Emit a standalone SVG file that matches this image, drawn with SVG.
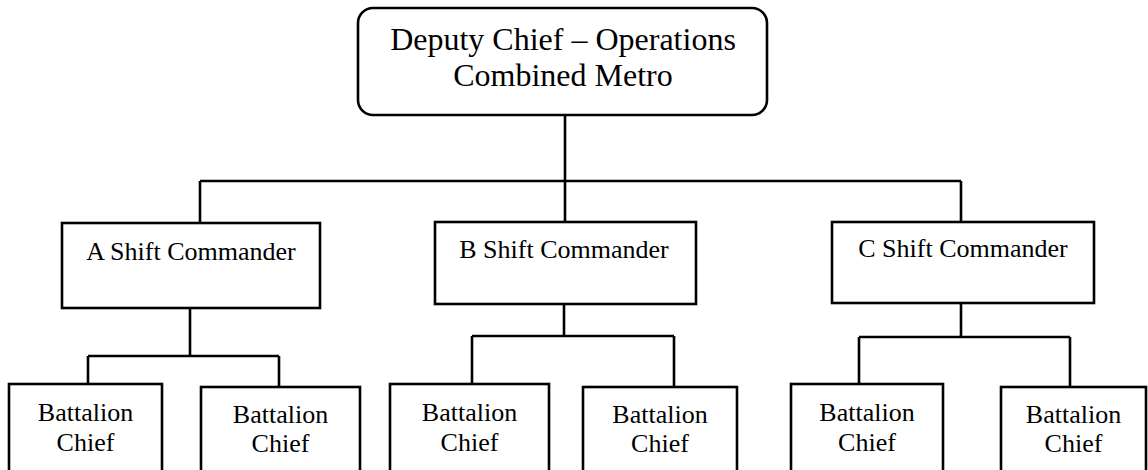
<svg xmlns="http://www.w3.org/2000/svg" width="1148" height="470" viewBox="0 0 1148 470">
<style>
.box{fill:#fff;stroke:#000;stroke-width:2.6}
.ln{fill:none;stroke:#000;stroke-width:2.6}
.t{font-family:'Liberation Serif','Times New Roman','DejaVu Serif',serif;fill:#000;text-anchor:middle}
.t1{font-size:32px}
.t2{font-size:26px}
.t3{font-size:26px}
</style>
<rect width="1148" height="470" fill="#fff"/>
<g id="connectors">
<path class="ln" d="M565 115V181M200 181H961M200 181V223M565 181V222M961 181V222"/>
<path class="ln" d="M190 308V356M88 356H279M88 356V384M279 356V387"/>
<path class="ln" d="M564 304V336M472 336H674M472 336V384M674 336V387"/>
<path class="ln" d="M961 303V337M859 337H1070M859 337V384M1070 337V387"/>
</g>
<g id="deputy">
<rect class="box" x="358" y="8" width="409" height="107" rx="15"/>
<text class="t t1" x="563" y="50" font-family="Liberation Serif, serif">Deputy Chief – Operations</text>
<text class="t t1" x="563" y="86" font-family="Liberation Serif, serif">Combined Metro</text>
</g>
<g id="a-shift">
<rect class="box" x="62" y="223" width="258" height="85"/>
<text class="t t2" x="191" y="260" font-family="Liberation Serif, serif">A Shift Commander</text>
</g>
<g id="b-shift">
<rect class="box" x="435" y="222" width="261" height="82"/>
<text class="t t2" x="564" y="258" font-family="Liberation Serif, serif">B Shift Commander</text>
</g>
<g id="c-shift">
<rect class="box" x="832" y="222" width="262" height="81"/>
<text class="t t2" x="963" y="257" font-family="Liberation Serif, serif">C Shift Commander</text>
</g>
<g id="bc1">
<rect class="box" x="9" y="384" width="153" height="90"/>
<text class="t t3" x="85.5" y="421" font-family="Liberation Serif, serif">Battalion</text>
<text class="t t3" x="85.5" y="451" font-family="Liberation Serif, serif">Chief</text>
</g>
<g id="bc2">
<rect class="box" x="201" y="387" width="159" height="90"/>
<text class="t t3" x="280.5" y="423" font-family="Liberation Serif, serif">Battalion</text>
<text class="t t3" x="280.5" y="452" font-family="Liberation Serif, serif">Chief</text>
</g>
<g id="bc3">
<rect class="box" x="390" y="384" width="159" height="90"/>
<text class="t t3" x="469.5" y="421" font-family="Liberation Serif, serif">Battalion</text>
<text class="t t3" x="469.5" y="451" font-family="Liberation Serif, serif">Chief</text>
</g>
<g id="bc4">
<rect class="box" x="583" y="387" width="154" height="90"/>
<text class="t t3" x="660" y="423" font-family="Liberation Serif, serif">Battalion</text>
<text class="t t3" x="660" y="452" font-family="Liberation Serif, serif">Chief</text>
</g>
<g id="bc5">
<rect class="box" x="791" y="384" width="152" height="90"/>
<text class="t t3" x="867" y="421" font-family="Liberation Serif, serif">Battalion</text>
<text class="t t3" x="867" y="451" font-family="Liberation Serif, serif">Chief</text>
</g>
<g id="bc6">
<rect class="box" x="1001" y="387" width="145" height="90"/>
<text class="t t3" x="1073.5" y="423" font-family="Liberation Serif, serif">Battalion</text>
<text class="t t3" x="1073.5" y="452" font-family="Liberation Serif, serif">Chief</text>
</g>
</svg>
